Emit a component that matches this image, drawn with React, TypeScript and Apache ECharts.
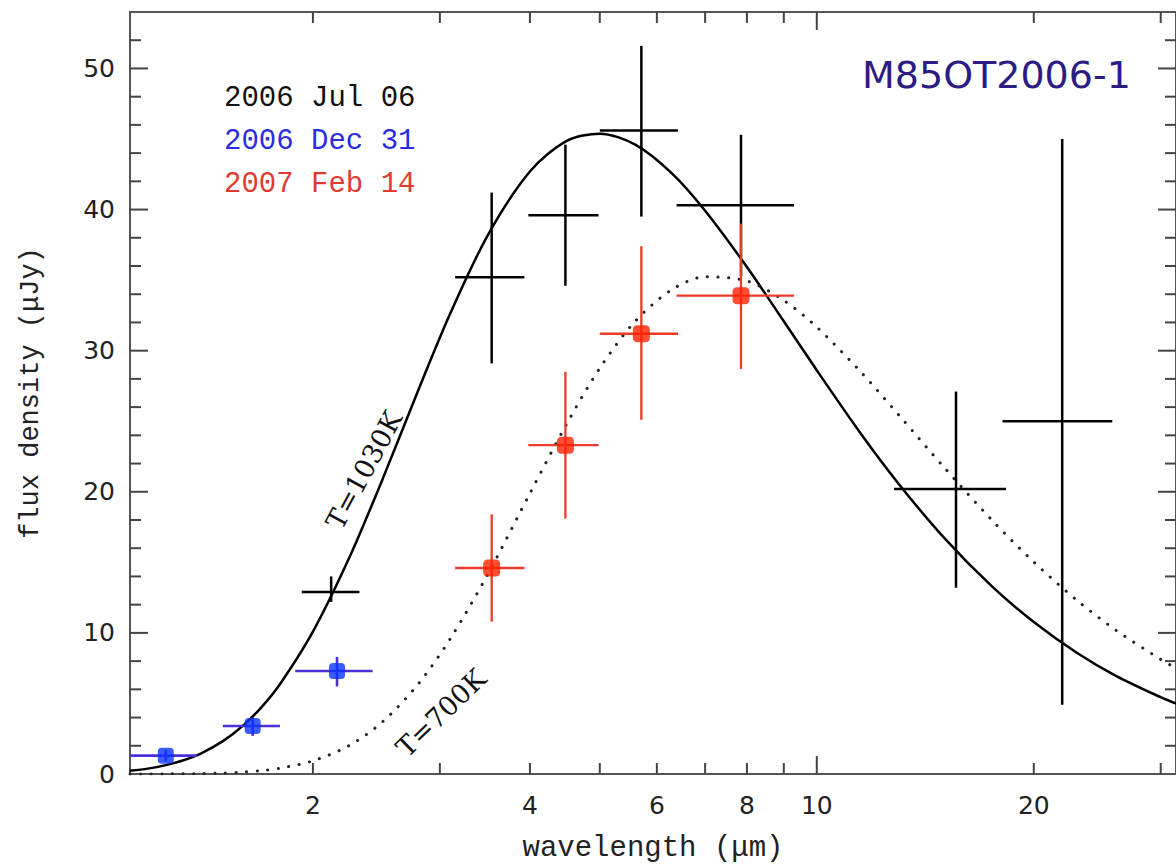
import React, { useEffect, useRef } from "react";
import * as echarts from "echarts";

// ---- axis ranges ----
const X_MIN = 1.115;
const X_MAX = 31.5;
const Y_MIN = 0;
const Y_MAX = 54;

// ---- ticks and labels ----
const xTickValues = [2, 3, 4, 5, 6, 7, 8, 9, 10, 20, 30];
const xMajorTicks = [10];
const xTickLabels = [2, 4, 6, 8, 10, 20];
const yTickValues = [2, 4, 6, 8, 10, 12, 14, 16, 18, 20, 22, 24, 26, 28, 30, 32, 34, 36, 38, 40, 42, 44, 46, 48, 50, 52];
const yMajorTicks = [10, 20, 30, 40, 50];

// ---- model curves ----
const wavelengths = [1.115, 1.18, 1.25, 1.32, 1.4, 1.5, 1.6, 1.7, 1.8, 2.0, 2.25, 2.5, 2.8, 3.1, 3.5, 4.0, 4.5, 5.0, 5.6, 6.3, 7.0, 8.0, 9.0, 10, 11.5, 13, 15, 17.5, 20, 23, 26, 30, 31.5];
const bb1030 = [0.23, 0.38, 0.63, 0.96, 1.47, 2.33, 3.43, 4.78, 6.36, 10.09, 15.41, 20.93, 27.2, 32.62, 38.23, 42.7, 44.87, 45.38, 44.6, 42.55, 39.92, 35.93, 32.08, 28.61, 24.15, 20.54, 16.77, 13.29, 10.77, 8.56, 6.96, 5.44, 4.99];
const bb700 = [0.0, 0.0, 0.01, 0.02, 0.03, 0.07, 0.14, 0.25, 0.41, 0.93, 2.04, 3.71, 6.38, 9.57, 14.2, 19.89, 24.83, 28.76, 32.09, 34.34, 35.23, 34.94, 33.56, 31.67, 28.51, 25.43, 21.76, 17.99, 15.02, 12.27, 10.19, 8.12, 7.5];

// ---- photometry: [wavelength, flux, xLow, xHigh, yLow, yHigh] ----
const jul06 = [
  [2.12, 12.9, 1.93, 2.32, 12.2, 14.0],
  [3.54, 35.2, 3.15, 3.93, 29.1, 41.2],
  [4.48, 39.6, 3.98, 4.98, 34.6, 44.6],
  [5.71, 45.6, 5.0, 6.42, 39.5, 51.6],
  [7.85, 40.3, 6.39, 9.3, 35.3, 45.3],
  [15.6, 20.2, 12.8, 18.3, 13.2, 27.1],
  [21.9, 25.0, 18.1, 25.7, 4.9, 45.0],
];
const dec31 = [
  [1.25, 1.3, 1.1, 1.38, 0.9, 1.7],
  [1.65, 3.4, 1.5, 1.8, 2.7, 4.0],
  [2.16, 7.3, 1.89, 2.42, 6.2, 8.3],
];
const feb14 = [
  [3.54, 14.6, 3.15, 3.93, 10.8, 18.4],
  [4.48, 23.3, 3.98, 4.98, 18.1, 28.5],
  [5.71, 31.2, 5.0, 6.42, 25.1, 37.4],
  [7.85, 33.9, 6.39, 9.3, 28.7, 39.0],
];

const legendLabels = ["2006 Jul 06", "2006 Dec 31", "2007 Feb 14"];
const titleText = "M85OT2006-1";

const MONO = "'Liberation Mono', 'DejaVu Sans Mono', monospace";
const SERIF = "'DejaVu Serif', serif";
const SANS = "'DejaVu Sans', sans-serif";

function errorBarSeries(rows: number[][], color: string, width: number) {
  return {
    type: "custom",
    clip: true,
    z: 3,
    data: rows,
    encode: { x: 0, y: 1 },
    renderItem: (_p: any, api: any) => {
      const x = api.value(0);
      const y = api.value(1);
      const l = api.coord([api.value(2), y]);
      const r = api.coord([api.value(3), y]);
      const b = api.coord([x, api.value(4)]);
      const t = api.coord([x, api.value(5)]);
      const st = { stroke: color, lineWidth: width };
      return {
        type: "group",
        children: [
          { type: "line", shape: { x1: l[0], y1: l[1], x2: r[0], y2: r[1] }, style: st },
          { type: "line", shape: { x1: b[0], y1: b[1], x2: t[0], y2: t[1] }, style: st },
        ],
      };
    },
  };
}

export default function App() {
  const ref = useRef<HTMLDivElement>(null);
  useEffect(() => {
    const chart = echarts.init(ref.current!, null, { renderer: "svg" });
    const tickStyle = { stroke: "#444", lineWidth: 2 };
    const option: any = {
      animation: false,
      backgroundColor: "#ffffff",
      grid: {
        left: 130,
        top: 12,
        width: 1051,
        height: 770,
        show: true,
        borderColor: "#555",
        borderWidth: 2,
        backgroundColor: "transparent",
      },
      xAxis: {
        type: "log",
        logBase: 10,
        min: X_MIN,
        max: X_MAX,
        axisLine: { show: false },
        axisTick: { show: false },
        axisLabel: { show: false },
        splitLine: { show: false },
        minorTick: { show: false },
        name: "wavelength (\u03bcm)",
        nameLocation: "middle",
        nameGap: 60,
        nameTextStyle: { fontFamily: MONO, fontSize: 29, color: "#222" },
      },
      yAxis: {
        type: "value",
        min: Y_MIN,
        max: Y_MAX,
        interval: 10,
        axisLine: { show: false },
        axisTick: { show: false },
        splitLine: { show: false },
        axisLabel: {
          margin: 15,
          fontSize: 25,
          fontFamily: SANS,
          color: "#222",
          formatter: (v: number) => (v % 10 === 0 ? String(v) : ""),
        },
        name: "flux density (\u03bcJy)",
        nameLocation: "middle",
        nameGap: 86,
        nameRotate: 90,
        nameTextStyle: { fontFamily: MONO, fontSize: 27, color: "#222" },
      },
      series: [
        {
          type: "line",
          data: wavelengths.map((w, i) => [w, bb1030[i]]),
          symbol: "none",
          smooth: 0.3,
          z: 2,
          lineStyle: { color: "#000", width: 2.5 },
        },
        {
          type: "line",
          data: wavelengths.map((w, i) => [w, bb700[i]]),
          symbol: "none",
          smooth: 0.3,
          z: 2,
          lineStyle: { color: "#222", width: 3, type: [0.1, 10.5], cap: "round" },
        },
        errorBarSeries(jul06, "#000", 2.5),
        errorBarSeries(dec31, "#4a2fd4", 2.6),
        {
          type: "scatter",
          data: dec31.map((r) => [r[0], r[1]]),
          symbol: "roundRect",
          symbolSize: 16,
          z: 4,
          itemStyle: { color: "#0a33ff" },
        },
        errorBarSeries(feb14, "#ee3a2a", 2.3),
        {
          type: "scatter",
          data: feb14.map((r) => [r[0], r[1]]),
          symbol: "roundRect",
          symbolSize: 17,
          z: 4,
          itemStyle: { color: "#ff2200" },
        },
        {
          type: "custom",
          z: 5,
          data: xTickValues.map((v) => [v, 0]),
          renderItem: (_p: any, api: any) => {
            const v = api.value(0);
            const len = xMajorTicks.includes(v) ? 18 : 11;
            const b = api.coord([v, Y_MIN]);
            const t = api.coord([v, Y_MAX]);
            const children: any[] = [
              { type: "line", shape: { x1: b[0], y1: b[1], x2: b[0], y2: b[1] - len }, style: tickStyle },
              { type: "line", shape: { x1: t[0], y1: t[1], x2: t[0], y2: t[1] + len }, style: tickStyle },
            ];
            if (xTickLabels.includes(v)) {
              children.push({
                type: "text",
                style: {
                  text: String(v),
                  x: b[0],
                  y: b[1] + 31,
                  textAlign: "center",
                  textVerticalAlign: "middle",
                  align: "center",
                  verticalAlign: "middle",
                  fontSize: 25,
                  fontFamily: SANS,
                  fill: "#222",
                },
              });
            }
            return { type: "group", children };
          },
        },
        {
          type: "custom",
          z: 5,
          data: yTickValues.map((v) => [X_MIN, v]),
          renderItem: (_p: any, api: any) => {
            const v = api.value(1);
            const len = yMajorTicks.includes(v) ? 18 : 11;
            const l = api.coord([X_MIN, v]);
            const r = api.coord([X_MAX, v]);
            return {
              type: "group",
              children: [
                { type: "line", shape: { x1: l[0], y1: l[1], x2: l[0] + len, y2: l[1] }, style: tickStyle },
                { type: "line", shape: { x1: r[0], y1: r[1], x2: r[0] - len, y2: r[1] }, style: tickStyle },
              ],
            };
          },
        },
      ],
      graphic: [
        {
          type: "text",
          left: 224,
          top: 84,
          style: { text: legendLabels[0], font: `29px ${MONO}`, fill: "#111" },
        },
        {
          type: "text",
          left: 224,
          top: 127,
          style: { text: legendLabels[1], font: `29px ${MONO}`, fill: "#2b2be0" },
        },
        {
          type: "text",
          left: 224,
          top: 170,
          style: { text: legendLabels[2], font: `29px ${MONO}`, fill: "#e23a30" },
        },
        {
          type: "text",
          left: 862,
          top: 56,
          style: { text: titleText, font: `38px ${SANS}`, fill: "#2d1b84" },
        },
        {
          type: "text",
          x: 364,
          y: 470,
          rotation: (61.5 * Math.PI) / 180,
          style: {
            text: "T=1030K",
            font: `27px ${SERIF}`,
            fill: "#111",
            textAlign: "center",
            textVerticalAlign: "middle",
            align: "center",
            verticalAlign: "middle",
          },
        },
        {
          type: "text",
          x: 441,
          y: 713,
          rotation: (44 * Math.PI) / 180,
          style: {
            text: "T=700K",
            font: `27px ${SERIF}`,
            fill: "#111",
            textAlign: "center",
            textVerticalAlign: "middle",
            align: "center",
            verticalAlign: "middle",
          },
        },
      ],
    };
    chart.setOption(option);
    return () => chart.dispose();
  }, []);
  return (
    <div
      ref={ref}
      style={{ position: "absolute", left: 0, top: 0, width: 1176, height: 868, background: "#fff" }}
    />
  );
}
